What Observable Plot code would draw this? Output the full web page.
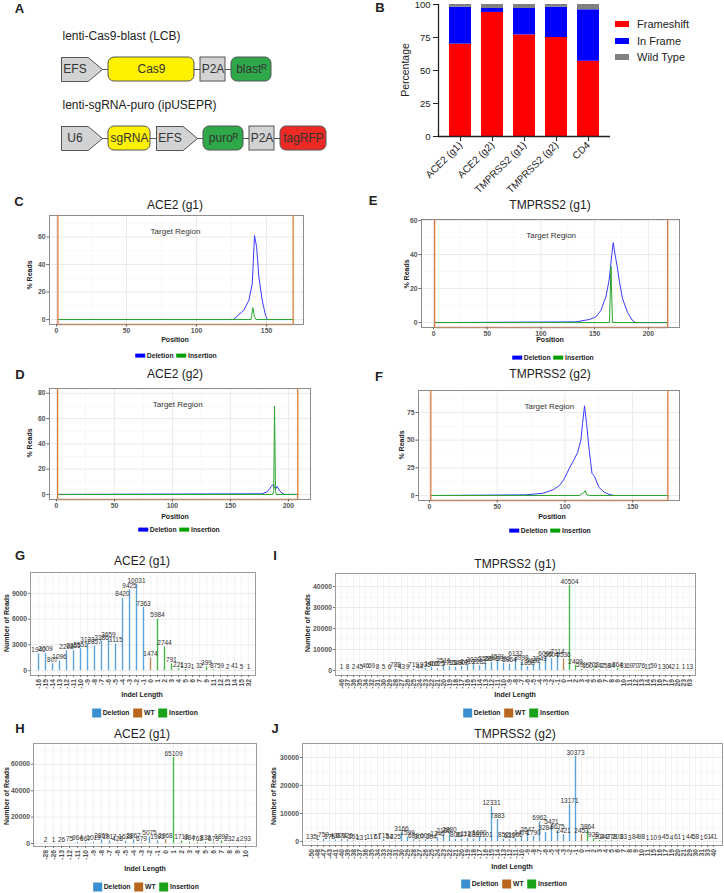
<!DOCTYPE html>
<html><head><meta charset="utf-8">
<script src="https://cdn.jsdelivr.net/npm/d3@7"></script>
<script src="https://cdn.jsdelivr.net/npm/@observablehq/plot@0.6"></script>
<style>
body{margin:0;background:#fff;}
#root{position:relative;width:724px;height:893px;overflow:hidden;font-family:"Liberation Sans",Arial,Helvetica,sans-serif;color:#222;background:#fff;}
.t{position:absolute;white-space:nowrap;line-height:1;}
</style></head><body><div id="root"></div>
<script>
// ---------- Panel A (constructs) ----------
const aRows = ["lenti-Cas9-blast (LCB)", "lenti-sgRNA-puro (ipUSEPR)"];
const aParts = [["EFS","Cas9","P2A","blastᴿ"], ["U6","sgRNA","EFS","puroᴿ","P2A","tagRFP"]];
const aKinds = [["promoter","gene","linker","gene"], ["promoter","gene","promoter","gene","linker","gene"]];
const aLengths = [[41,86,25,40],[41,42,41,40,25,46]];

// ---------- Panel B ----------
const bSamples = ["ACE2 (g1)", "ACE2 (g2)", "TMPRSS2 (g1)", "TMPRSS2 (g2)", "CD4"];
const bTypes = ["Frameshift", "In Frame", "Wild Type"];
const bFrameshift = [70, 94, 77, 75, 57];
const bInFrame = [28, 3, 20, 23, 39];
const bWildType = [2, 3, 3, 2, 4];

// ---------- Panels C-F (indel position profiles) ----------
const cTarget = [1, 169];
const cDelPos = [1, 126.5, 129, 133.8, 137.4, 139.8, 141.4, 142.9, 144.5, 146.9, 149.3, 150.5, 169];
const cDelVal = [0, 0, 2.4, 6.8, 14, 26, 61, 53, 31, 14, 3, 0, 0];
const cInsPos = [1, 139, 140.2, 141.4, 142.5, 169];
const cInsVal = [0, 0, 8.7, 2, 0, 0];

const eTarget = [1, 218];
const eDelPos = [1, 132.5, 145, 151, 155.7, 160.4, 163.5, 166, 167.3, 169, 171, 172.8, 176, 180.6, 185, 188, 218];
const eDelVal = [0, 0.4, 1.8, 3.3, 7, 15, 25, 40, 47, 40, 33, 25, 14, 6, 1.4, 0, 0];
const eInsPos = [1, 163.8, 165.2, 166.6, 218];
const eInsVal = [0, 0, 33, 0, 0];

const dTarget = [1, 208];
const dDelPos = [1, 177, 181.6, 185, 186.8, 188, 189, 190.2, 192.5, 195.4, 197, 208];
const dDelVal = [0, 0.5, 2, 6, 8, 6, 4.5, 6.3, 2.6, 0.5, 0, 0];
const dInsPos = [1, 186.5, 187.3, 188, 188.8, 189.6, 208];
const dInsVal = [0, 0, 3, 70, 3, 0, 0];

const fTarget = [1, 176];
const fDelPos = [1, 71, 83.5, 91, 96, 99.5, 103, 107, 109.4, 111.8, 113, 114.5, 116, 118, 120, 122, 125, 129, 132.7, 136.5, 176];
const fDelVal = [0, 0.6, 2, 5, 9, 15, 24, 33, 39, 50, 65, 81, 65, 40, 20, 17, 7.5, 3, 1, 0, 0];
const fInsPos = [1, 110.6, 114.3, 115, 116, 118, 176];
const fInsVal = [0, 0, 3, 4.5, 1, 0, 0];

// ---------- Panels G-J (indel length counts) ----------
const gCats = ["-16","-15","-14","-13","-12","-11","-10","-9","-8","-7","-6","-5","-4","-3","-2","-1","0","1","2","3","4","5","6","7","9","11","12","13","14","15","32"];
const gReads = [1940, 2009, 807, 1096, 2298, 2355, 2551, 3123, 2857, 3386, 3659, 3115, 8420, 9425, 10031, 7363, 1474, 5984, 2744, 791, 221, 133, 1, 32, 399, 87, 59, 2, 41, 5, 1];

const hCats = ["-28","-26","-13","-12","-11","-10","-9","-8","-7","-6","-5","-4","-3","-2","-1","0","1","2","3","4","5","6","7","8","9","10"];
const hReads = [2, 1, 26, 75, 964, 667, 1019, 2869, 1917, 428, 1638, 2867, 679, 5075, 1993, 2968, 65109, 1718, 984, 763, 838, 673, 1892, 232, 4, 293];

const iCats = ["-46","-37","-36","-35","-34","-32","-31","-30","-29","-28","-27","-26","-25","-24","-23","-22","-21","-20","-19","-18","-17","-16","-15","-14","-13","-12","-11","-10","-9","-8","-7","-6","-5","-4","-3","-2","-1","0","1","2","3","4","5","6","7","8","9","10","11","12","13","14","15","16","17","19","20","23","63"];
const iReads = [1, 8, 2, 45, 46, 69, 8, 5, 6, 788, 43, 9, 719, 44, 935, 1460, 1025, 2516, 1731, 1549, 1902, 2410, 3030, 2282, 3556, 3846, 4531, 3392, 2964, 6132, 3998, 1858, 2692, 3849, 6096, 5604, 7114, 5536, 40504, 2409, 599, 150, 702, 247, 158, 94, 864, 81, 69, 70, 76, 11, 59, 1, 30, 42, 1, 1, 13];

const jCats = ["-50","-48","-47","-43","-41","-40","-39","-38","-37","-36","-35","-34","-33","-32","-31","-30","-29","-28","-27","-26","-25","-24","-23","-22","-21","-20","-19","-18","-17","-16","-15","-14","-13","-12","-11","-10","-9","-8","-7","-6","-5","-4","-3","-2","-1","0","1","2","3","4","5","6","7","8","9","10","11","15","16","17","19","20","21","29","30","31","33","40"];
const jReads = [135, 1, 759, 175, 438, 674, 626, 251, 13, 1, 117, 61, 715, 54, 225, 3166, 1599, 689, 307, 609, 294, 1346, 2186, 2880, 806, 817, 1127, 838, 1690, 1101, 12331, 7883, 852, 623, 1066, 1474, 2547, 1790, 6962, 3284, 5421, 3675, 2421, 13171, 30373, 2453, 3864, 928, 304, 247, 278, 203, 83, 3, 84, 98, 1, 10, 9, 45, 4, 61, 1, 44, 58, 1, 61, 41];

// ================= drawing =================
const root = document.getElementById("root");
const FONT = '"Liberation Sans", Arial, Helvetica, sans-serif';
const STYLE = {fontFamily: FONT, background: "transparent", overflow: "visible"};

function place(svg, left, top) {
  svg.style.position = "absolute";
  svg.style.left = left + "px";
  svg.style.top = top + "px";
  svg.style.maxWidth = "none";
  root.appendChild(svg);
}
function framed(box, m, opts) {
  const [x0, y0, x1, y1] = box;
  const svg = Plot.plot({
    ...opts,
    width: x1 - x0 + m[1] + m[3], height: y1 - y0 + m[0] + m[2],
    marginTop: m[0], marginRight: m[1], marginBottom: m[2], marginLeft: m[3],
    style: STYLE
  });
  place(svg, x0 - m[3], y0 - m[0]);
}
function txt(s, x, y, o = {}) {
  const d = document.createElement("div");
  d.className = "t";
  d.textContent = s;
  d.style.left = x + "px"; d.style.top = y + "px";
  d.style.fontSize = (o.size || 12) + "px";
  if (o.bold) d.style.fontWeight = "bold";
  d.style.color = o.color || "#222";
  let tr = o.align === "left" ? "translate(0,-50%)" : "translate(-50%,-50%)";
  if (o.rotate) tr += ` rotate(${o.rotate}deg)`;
  d.style.transform = tr;
  root.appendChild(d);
}
function legend(items, cx, cy, o) {
  const d = document.createElement("div");
  d.style.cssText = `position:absolute;left:${cx}px;top:${cy}px;transform:translate(-50%,-50%);display:flex;align-items:center;white-space:nowrap;font-weight:bold;font-size:${o.size}px;color:#222;line-height:1`;
  items.forEach(([label, color], i) => {
    const s = document.createElement("span");
    s.style.cssText = `display:inline-block;width:${o.w}px;height:${o.h}px;background:${color};margin-right:${o.g1}px;margin-left:${i ? o.g2 : 0}px`;
    d.appendChild(s);
    const t = document.createElement("span"); t.textContent = label; d.appendChild(t);
  });
  root.appendChild(d);
}

// ---------- A ----------
(function () {
  const partFill = {"Cas9": "#fff200", "sgRNA": "#fff200", "blastᴿ": "#2fa84a", "puroᴿ": "#2fa84a", "tagRFP": "#ee2a24"};
  const grey = "#d1d3d4", START = 61, GAP = 6, H = 0.174;
  const els = [], rows = [];
  aRows.forEach((row, r) => {
    let x = START;
    aParts[r].forEach((name, k) => {
      const L = aLengths[r][k];
      els.push({r, name, kind: aKinds[r][k], x0: x, x1: x + L, L});
      x += L + GAP;
    });
    rows.push({r, name: row, x0: START, x1: x - GAP});
  });
  const poly = [];
  els.filter(e => e.kind === "promoter").forEach((e, i) => {
    const k = e.x0 + 0.65 * e.L;
    [[e.x0, e.r - H], [k, e.r - H], [e.x1, e.r], [k, e.r + H], [e.x0, e.r + H], [e.x0, e.r - H]]
      .forEach(([x, y]) => poly.push({id: i, x, y}));
  });
  const svg = Plot.plot({
    width: 370, height: 165, margin: 0, style: STYLE,
    x: {domain: [0, 370], range: [0, 370], axis: null},
    y: {domain: [-1, 1.391], range: [0, 165], axis: null},
    marks: [
      Plot.ruleY(rows, {x1: "x0", x2: "x1", y: "r", stroke: "#555", strokeWidth: 1}),
      Plot.line(poly, {x: "x", y: "y", z: "id", fill: grey, stroke: "#555", strokeWidth: 1}),
      Plot.rect(els.filter(e => e.kind === "gene"), {x1: "x0", x2: "x1", y1: d => d.r - H, y2: d => d.r + H, fill: d => partFill[d.name], stroke: "#555", rx: 6}),
      Plot.rect(els.filter(e => e.kind === "linker"), {x1: "x0", x2: "x1", y1: d => d.r - H, y2: d => d.r + H, fill: grey, stroke: "#555"}),
      Plot.text(els, {x: d => d.kind === "promoter" ? d.x0 + 0.33 * d.L : (d.x0 + d.x1) / 2, y: "r", text: "name", fontSize: 12, fill: "#333"}),
      Plot.text(rows, {x: d => d.x0 + 1, y: d => d.r - 0.478, text: "name", textAnchor: "start", fontSize: 12, fill: "#222"})
    ]
  });
  place(svg, 0, 0);
  txt("A", 19.5, 8, {size: 13, bold: true});
})();

// ---------- B ----------
(function () {
  const data = [];
  bSamples.forEach((s, i) => {
    data.push({s, type: "Frameshift", v: bFrameshift[i]}, {s, type: "In Frame", v: bInFrame[i]}, {s, type: "Wild Type", v: bWildType[i]});
  });
  const colors = ["#ff0000", "#0000ff", "#808080"];
  const svg = Plot.plot({
    width: 250, height: 200, marginLeft: 68, marginRight: 10, marginTop: 4, marginBottom: 64, style: STYLE,
    x: {domain: bSamples, paddingInner: 0.3125, paddingOuter: 0.34},
    y: {domain: [0, 100]},
    color: {domain: bTypes, range: colors},
    marks: [
      Plot.barY(data, {x: "s", y: "v", fill: "type"}),
      Plot.ruleY([0], {stroke: "#222", strokeWidth: 1.3}),
      Plot.frame({anchor: "left", stroke: "#222", strokeWidth: 1.3}),
      Plot.axisY({ticks: [0, 25, 50, 75, 100], tickSize: 5, tickPadding: 3, fontSize: 9.5, fill: "#222", stroke: "#222", label: null}),
      Plot.axisX({tickRotate: -45, tickSize: 5, tickPadding: 2, fontSize: 10, fill: "#222", stroke: "#222", label: null})
    ]
  });
  place(svg, 370, 0);
  txt("B", 380, 7, {size: 13, bold: true});
  txt("Percentage", 405, 70, {size: 10.5, rotate: -90});
  bTypes.forEach((t, i) => {
    const y = [23.5, 41, 57][i];
    const s = document.createElement("div");
    s.style.cssText = `position:absolute;left:615px;top:${y - 3}px;width:14px;height:6px;background:${colors[i]}`;
    root.appendChild(s);
    txt(t, 637, y, {size: 11, align: "left"});
  });
})();

// ---------- C-F ----------
function profile(c) {
  const del = c.delPos.map((p, i) => ({pos: p, val: c.delVal[i]}));
  const ins = c.insPos.map((p, i) => ({pos: p, val: c.insVal[i]}));
  const tgt = [{a: c.target[0], b: c.target[1], lo: c.ydom[0], hi: c.ydom[1]}];
  const xs = c.xticks[1] - c.xticks[0], ys = c.yticks[1] - c.yticks[0];
  const xMinor = d3.range(c.xticks[0] + xs / 2, c.xdom[1], xs);
  const yMinor = d3.range(c.yticks[0] + ys / 2, c.ydom[1], ys);
  const axisStyle = {tickSize: 2.5, tickPadding: 1.5, fontSize: 6.8, fontWeight: "bold", fill: "#555", stroke: "#666", label: null};
  framed(c.box, [2, 4, 22, 32], {
    x: {domain: c.xdom}, y: {domain: c.ydom},
    marks: [
      Plot.gridX({ticks: xMinor, stroke: "#f3f3f3", strokeOpacity: 1, strokeWidth: 0.6}),
      Plot.gridY({ticks: yMinor, stroke: "#f3f3f3", strokeOpacity: 1, strokeWidth: 0.6}),
      Plot.gridX({ticks: c.xticks, stroke: "#e4e4e4", strokeOpacity: 1, strokeWidth: 0.8}),
      Plot.gridY({ticks: c.yticks, stroke: "#e4e4e4", strokeOpacity: 1, strokeWidth: 0.8}),
      Plot.line(del, {x: "pos", y: "val", stroke: "#3a3aff", strokeWidth: 1}),
      Plot.line(ins, {x: "pos", y: "val", stroke: "#2aa52a", strokeWidth: 1}),
      Plot.frame({stroke: "#8c8c8c"}),
      Plot.ruleY(tgt, {x1: "a", x2: "b", y: "lo", stroke: "#b98a6c", strokeWidth: 1.3}),
      Plot.ruleX(tgt, {x: "a", y1: "lo", y2: "hi", stroke: "#dd7a3e", strokeWidth: 1.3}),
      Plot.ruleX(tgt, {x: "b", y1: "lo", y2: "hi", stroke: "#dd7a3e", strokeWidth: 1.3}),
      Plot.text(tgt, {x: d => (d.a + d.b) / 2, frameAnchor: "top", dy: 13, text: () => "Target Region", fontSize: 8, fill: "#333"}),
      Plot.axisX({ticks: c.xticks, ...axisStyle}),
      Plot.axisY({ticks: c.yticks, ...axisStyle})
    ]
  });
  txt(c.letter, c.letterPos[0], c.letterPos[1], {size: 13, bold: true});
  txt(c.title, c.titlePos[0], c.titlePos[1], {size: 12});
  txt("% Reads", c.yLab[0], c.yLab[1], {size: 7, bold: true, rotate: -90});
  txt("Position", c.xLab[0], c.xLab[1], {size: 7, bold: true});
  legend([["Deletion", "#0000ff"], ["Insertion", "#00a000"]], c.leg[0], c.leg[1], {size: 6.8, w: 10, h: 4, g1: 1.5, g2: 3});
}
profile({box: [49, 215, 303, 324], xdom: [-5, 176.4], ydom: [-3.6, 75.6], xticks: [0, 50, 100, 150], yticks: [0, 20, 40, 60],
  target: cTarget, delPos: cDelPos, delVal: cDelVal, insPos: cInsPos, insVal: cInsVal,
  letter: "C", letterPos: [19, 201], title: "ACE2 (g1)", titlePos: [175, 205], yLab: [29, 275], xLab: [175, 339], leg: [176, 356]});
profile({box: [421, 219, 679, 327], xdom: [-11.2, 229], ydom: [-2.9, 60.6], xticks: [0, 50, 100, 150, 200], yticks: [0, 20, 40, 60],
  target: eTarget, delPos: eDelPos, delVal: eDelVal, insPos: eInsPos, insVal: eInsVal,
  letter: "E", letterPos: [373, 200], title: "TMPRSS2 (g1)", titlePos: [550, 205], yLab: [406, 274], xLab: [550, 339], leg: [553, 358]});
profile({box: [49, 388, 310, 499], xdom: [-6, 219], ydom: [-4, 83.8], xticks: [0, 50, 100, 150, 200], yticks: [0, 20, 40, 60, 80],
  target: dTarget, delPos: dDelPos, delVal: dDelVal, insPos: dInsPos, insVal: dInsVal,
  letter: "D", letterPos: [20, 374], title: "ACE2 (g2)", titlePos: [175, 374], yLab: [29, 443], xLab: [175, 516], leg: [179, 530]});
profile({box: [418, 390, 679, 500], xdom: [-8.1, 184.6], ydom: [-4.5, 94.8], xticks: [0, 50, 100, 150], yticks: [0, 25, 50, 75],
  target: fTarget, delPos: fDelPos, delVal: fDelVal, insPos: fInsPos, insVal: fInsVal,
  letter: "F", letterPos: [379, 376], title: "TMPRSS2 (g2)", titlePos: [550, 374], yLab: [401, 445], xLab: [552, 516], leg: [550, 531]});

// ---------- G-J ----------
function counts(c) {
  const data = c.cats.map((k, i) => ({cat: k, n: c.reads[i], type: +k < 0 ? "Deletion" : +k === 0 ? "WT" : "Insertion"}));
  const axisStyle = {tickSize: 2, tickPadding: 1.5, fontSize: 6.8, fontWeight: "bold", fill: "#555", stroke: "#777", label: null};
  framed(c.box, [2, 2, 26, 32], {
    x: {type: "point", domain: c.cats, padding: c.pad},
    y: {domain: c.ydom},
    color: {domain: ["Deletion", "WT", "Insertion"], range: ["#5aa2dc", "#c4844e", "#45b845"]},
    marks: [
      Plot.gridX({stroke: "#ececec", strokeOpacity: 1, strokeWidth: 0.6}),
      Plot.gridY({ticks: c.minor, stroke: "#f3f3f3", strokeOpacity: 1, strokeWidth: 0.6}),
      Plot.gridY({ticks: c.major, stroke: "#e4e4e4", strokeOpacity: 1, strokeWidth: 0.8}),
      Plot.ruleX(data, {x: "cat", y1: 0, y2: "n", stroke: "type", strokeWidth: 1.4}),
      Plot.text(data, {x: "cat", y: "n", text: d => String(d.n), dy: -4, fontSize: 6.5, fill: "#333"}),
      Plot.frame({stroke: "#9a9a9a"}),
      Plot.axisX({tickRotate: -90, ...axisStyle}),
      Plot.axisY({ticks: c.major, tickFormat: d => String(d), ...axisStyle})
    ]
  });
  txt(c.letter, c.letterPos[0], c.letterPos[1], {size: 13, bold: true});
  txt(c.title, c.titlePos[0], c.titlePos[1], {size: 12});
  txt("Number of Reads", c.yLab[0], c.yLab[1], {size: 7, bold: true, rotate: -90});
  txt("Indel Length", c.xLab[0], c.xLab[1], {size: 7, bold: true});
  legend([["Deletion", "#3a8fd0"], ["WT", "#b8651e"], ["Insertion", "#1aa31a"]], c.leg[0], c.leg[1], {size: 6.8, w: 9, h: 9, g1: 1.5, g2: 4});
}
counts({cats: gCats, reads: gReads, box: [30, 572, 255, 675], pad: 0.6, ydom: [-572, 11440], major: [0, 3000, 6000, 9000], minor: [1500, 4500, 7500, 10500],
  letter: "G", letterPos: [20, 555], title: "ACE2 (g1)", titlePos: [142, 561], yLab: [6, 623], xLab: [142, 694], leg: [145, 713]});
counts({cats: hCats, reads: hReads, box: [33, 743, 256, 846], pad: 0.6, ydom: [-2270, 75760], major: [0, 20000, 40000, 60000], minor: [10000, 30000, 50000, 70000],
  letter: "H", letterPos: [20, 728], title: "ACE2 (g1)", titlePos: [142, 734], yLab: [6, 796], xLab: [145, 868], leg: [146, 887]});
counts({cats: iCats, reads: iReads, box: [335, 573, 695, 675], pad: 0.5, ydom: [-2380, 46190], major: [0, 10000, 20000, 30000, 40000], minor: [5000, 15000, 25000, 35000, 45000],
  letter: "I", letterPos: [275, 555], title: "TMPRSS2 (g1)", titlePos: [515, 564], yLab: [307, 623], xLab: [515, 694], leg: [516, 713]});
counts({cats: jCats, reads: jReads, box: [302, 743, 722, 845], pad: 0.5, ydom: [-1430, 35000], major: [0, 10000, 20000, 30000], minor: [5000, 15000, 25000],
  letter: "J", letterPos: [275, 728], title: "TMPRSS2 (g2)", titlePos: [515, 734], yLab: [273, 796], xLab: [512, 866], leg: [514, 884]});
</script></body></html>
